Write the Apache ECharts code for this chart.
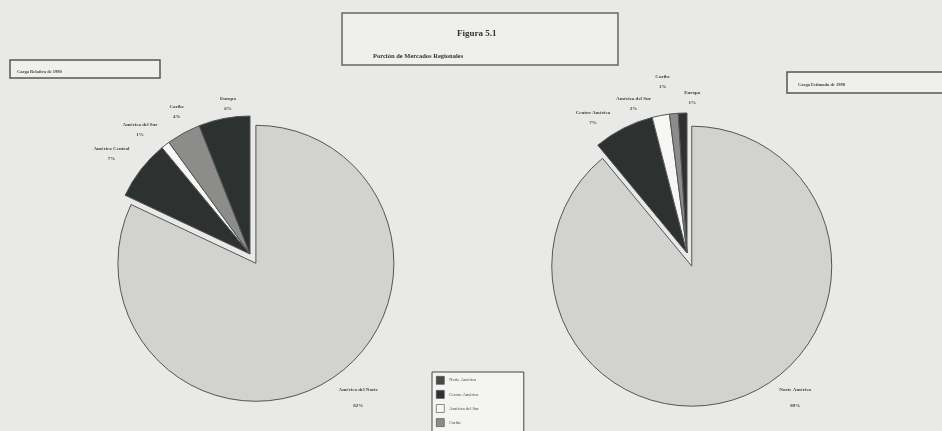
<!DOCTYPE html>
<html>
<head>
<meta charset="utf-8">
<script src="https://cdn.jsdelivr.net/npm/echarts@6/dist/echarts.min.js"></script>
<style>
  html, body { margin: 0; padding: 0; background: #e9e9e7; }
  #pie-chart { width: 942px; height: 431px; }
</style>
</head>
<body>
<div id="pie-chart"></div>
<script>
// datos
var regiones1990 = ["América del Norte", "América Central", "América del Sur", "Caribe", "Europa"];
var valores1990 = [82, 7, 1, 4, 6];
var regiones1998 = ["Norte América", "Centro América", "América del Sur", "Caribe", "Europa"];
var valores1998 = [89, 7, 2, 1, 1];
var colores = ["#d2d2d0", "#2d312f", "#f6f6f4", "#8c8c8a", "#2d312f"];
var leyenda = ["Norte América", "Centro América", "América del Sur", "Caribe", "Europa"];

var serif = "Liberation Serif";

// pequeños ajustes de las etiquetas (dx, dy) para que queden como en la figura
var ajuste1990 = [[17, 8], [-15, -8], [-13, -6], [4, -11], [11, -3]];
var ajuste1998 = [[47, -11], [-20, 0], [-20, 0], [-5, -20], [15, -3]];

function armarDatos(nombres, valores) {
  return nombres.map(function (n, i) {
    var d = {
      name: n,
      value: valores[i],
      selected: i === 0, // la porcion grande va separada
      itemStyle: { color: colores[i] }
    };
    if (i === 0) {
      d.label = { lineHeight: 16 };
    }
    return d;
  });
}

function serieTorta(nombres, valores, centro, radio, offset, ajuste) {
  return {
    type: "pie",
    center: centro,
    radius: radio,
    startAngle: 90,
    clockwise: true,
    selectedMode: "single",
    selectedOffset: offset,
    avoidLabelOverlap: false,
    silent: true,
    itemStyle: { borderColor: "#555", borderWidth: 1 },
    label: {
      show: true,
      position: "outside",
      formatter: "{b}\n{c}%",
      fontFamily: serif,
      fontSize: 5,
      fontWeight: "bold",
      color: "#444",
      lineHeight: 10
    },
    labelLine: { show: false, length: 12, length2: 0 },
    labelLayout: function (params) {
      var a = ajuste[params.dataIndex];
      return { align: "center", dx: a[0], dy: a[1] };
    },
    data: armarDatos(nombres, valores)
  };
}

let myChart = echarts.init(document.getElementById("pie-chart"));
let option = {
  backgroundColor: "#e9e9e7",
  animation: false,
  title: [
    {
      text: "Figura 5.1",
      left: 452,
      top: 24,
      textStyle: { fontFamily: serif, fontSize: 9, fontWeight: "bold", color: "#333" }
    },
    {
      text: "Porción de Mercados Regionales",
      left: 368,
      top: 48,
      textStyle: { fontFamily: serif, fontSize: 6.5, fontWeight: "bold", color: "#333" }
    },
    {
      text: "Carga Relativa de 1990",
      left: 12,
      top: 64,
      textStyle: { fontFamily: serif, fontSize: 4.5, fontWeight: "bold", color: "#444" }
    },
    {
      text: "Carga Estimada de 1998",
      left: 793,
      top: 77,
      textStyle: { fontFamily: serif, fontSize: 4.5, fontWeight: "bold", color: "#444" }
    }
  ],
  graphic: [
    { type: "rect", shape: { x: 342, y: 13, width: 276, height: 52 }, style: { fill: "#efefed", stroke: "#666", lineWidth: 1.5 }, z: -1 },
    { type: "rect", shape: { x: 10, y: 60, width: 150, height: 18 }, style: { fill: "#efefed", stroke: "#555", lineWidth: 1.5 }, z: -1 },
    { type: "rect", shape: { x: 787, y: 72, width: 165, height: 21 }, style: { fill: "#efefed", stroke: "#555", lineWidth: 1.5 }, z: -1 }
  ],
  legend: {
    orient: "vertical",
    left: 432,
    top: 372,
    height: 120,
    selectedMode: false,
    backgroundColor: "#f4f4f2",
    borderColor: "#444",
    borderWidth: 1,
    padding: [4, 45, 4, 4],
    itemWidth: 8,
    itemHeight: 8,
    itemGap: 5.5,
    icon: "rect",
    textStyle: { fontFamily: serif, fontSize: 4.5, color: "#444" },
    data: leyenda.map(function (n, i) {
      // en la figura el primer cuadro de la leyenda sale oscuro
      return { name: n, itemStyle: { color: i === 0 ? "#4a4a48" : colores[i], borderColor: "#444", borderWidth: 0.6 } };
    })
  },
  series: [
    serieTorta(regiones1990, valores1990, [250, 254], 138, 11, ajuste1990),
    serieTorta(regiones1998, valores1998, [687, 253], 140, 14, ajuste1998)
  ]
};
myChart.setOption(option);
</script>
</body>
</html>
